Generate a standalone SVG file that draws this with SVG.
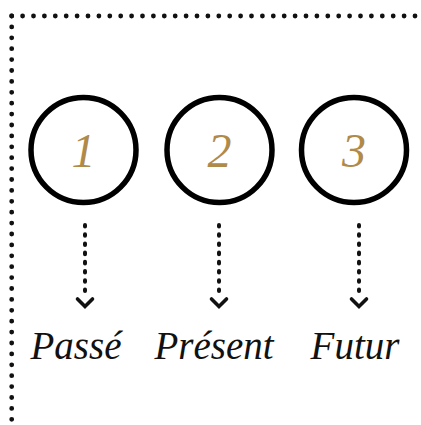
<svg xmlns="http://www.w3.org/2000/svg" width="421" height="425" viewBox="0 0 421 425">
<defs>
<style>
.border{fill:none;stroke:#111;stroke-width:4.8;stroke-linecap:round;stroke-dasharray:0 10.9}
.ring{fill:none;stroke:#000;stroke-width:5.5}
.num{font-family:"Liberation Serif",serif;font-style:italic;font-size:48px;fill:#B08A48;text-anchor:middle}
.lbl{font-family:"Liberation Serif",serif;font-style:italic;font-size:39px;fill:#111;text-anchor:middle}
.dots{fill:none;stroke:#111;stroke-width:4;stroke-linecap:round;stroke-dasharray:1.6 7.6}
.chev{fill:none;stroke:#111;stroke-width:3.6;stroke-linecap:round;stroke-linejoin:miter}
</style>
</defs>
<rect width="421" height="425" fill="#fff"/>
<g id="border">
<line class="border" x1="11.7" y1="16" x2="421" y2="16"/>
<line class="border" x1="11.7" y1="16" x2="11.7" y2="425"/>
</g>
<g id="node1">
<circle class="ring" cx="83.5" cy="150" r="52.5"/>
<text class="num" x="83.5" y="167">1</text>
<text class="lbl" x="76" y="359">Passé</text>
</g>
<g id="node2">
<circle class="ring" cx="219.5" cy="150" r="52.5"/>
<text class="num" x="219.5" y="167">2</text>
<text class="lbl" x="214" y="359">Présent</text>
</g>
<g id="node3">
<circle class="ring" cx="354" cy="150" r="52.5"/>
<text class="num" x="354" y="167">3</text>
<text class="lbl" x="355" y="359">Futur</text>
</g>
<g id="connectors">
<line class="dots" x1="85" y1="225" x2="85" y2="298"/>
<polyline class="chev" points="77.5,299 85,306.5 92.5,299"/>
<line class="dots" x1="219" y1="225" x2="219" y2="298"/>
<polyline class="chev" points="211.5,299 219,306.5 226.5,299"/>
<line class="dots" x1="359" y1="225" x2="359" y2="298"/>
<polyline class="chev" points="351.5,299 359,306.5 366.5,299"/>
</g>
</svg>
